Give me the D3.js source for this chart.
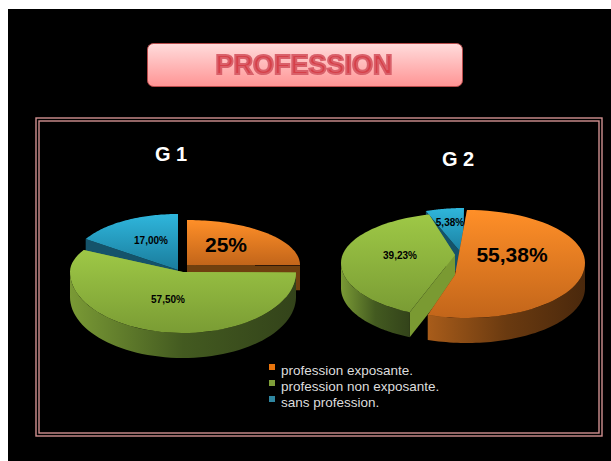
<!DOCTYPE html>
<html>
<head>
<meta charset="utf-8">
<script src="https://cdn.jsdelivr.net/npm/d3@7"></script>
<style>
    html, body { margin: 0; padding: 0; background: #fff; }
    svg { display: block; }
    text { font-family: "Liberation Sans", Arial, sans-serif; }
</style>
</head>
<body>
<div id="chart"></div>
<script>
'use strict';

// Data
const title = 'PROFESSION';
const categories = ['profession exposante.', 'profession non exposante.', 'sans profession.'];
const groupNames = ['G 1', 'G 2'];
const g1Values = [25, 57.5, 17];
const g2Values = [55.38, 39.23, 5.38];
const g1Labels = ['25%', '57,50%', '17,00%'];
const g2Labels = ['55,38%', '39,23%', '5,38%'];

// Colors per category: top face gradient, wall gradient, cut face
const topColors = [['#ff8f28', '#c2651a'], ['#9ec846', '#7a9c34'], ['#2fb6dc', '#1a7c9c']];
const wallColors = [['#a85c1a', '#6a3a10', '#4a280c'], ['#7a9a35', '#435a20', '#33431a'], ['#1b6a84', '#17566e', '#124558']];
const cutColors = ['#70400f', '#7a9a32', '#15536a'];
const legendColors = ['#e8740c', '#7f9f3a', '#2f86a0'];

// Slice geometry, the pictures are not true ellipses so each slice has its own
const g1Layout = {
    depth: 25,
    drawOrder: [2, 0, 1],
    slices: [
        {cx: 187, cy: 265, rx: 113, ryBack: 45, ryFront: 45, apexX: 187, apexY: 265, shift: 0},
        {cx: 183, cy: 272, rx: 113, ryBack: 46, ryFront: 61, apexX: 183, apexY: 272, shift: 0},
        {cx: 178, cy: 262, rx: 105, ryBack: 48, ryFront: 48, apexX: 178, apexY: 270, shift: 0}
    ],
    labels: [
        {x: 226, y: 252, size: 21},
        {x: 168, y: 303, size: 10},
        {x: 151, y: 244, size: 10}
    ],
    name: {x: 171, y: 161}
};
const g2Layout = {
    depth: 25,
    drawOrder: [2, 1, 0],
    slices: [
        {cx: 467, cy: 263, rx: 118, ryBack: 53, ryFront: 55, apexX: 455, apexY: 275, shift: 0},
        {cx: 458, cy: 263, rx: 117, ryBack: 50, ryFront: 54, apexX: 455, apexY: 255, shift: 5},
        {cx: 464, cy: 262, rx: 115, ryBack: 54, ryFront: 54, apexX: 463, apexY: 255, shift: 0}
    ],
    labels: [
        {x: 512, y: 262, size: 21},
        {x: 400, y: 259, size: 10},
        {x: 450, y: 226, size: 10}
    ],
    name: {x: 458, y: 166}
};

/* Class: Pie3d */
class Pie3d {

    constructor(_svg, _id, _name, _values, _labels, _layout) {
        // Fields
        this.svg = _svg;
        this.id = _id;
        this.name = _name;
        this.values = _values;
        this.labels = _labels;
        this.layout = _layout;

        // Initialize
        this.wrangleData();
        this.updateVis();
    }

    /*
    wrangleData
    */
    wrangleData() {
        const vis = this;

        // Clockwise from the top, in the given order
        vis.arcs = d3.pie().sort(null)(vis.values);
        vis.line = d3.line().x(d => d[0]).y(d => d[1]);
    }

    /*
    rim point of slice i at angle a
    */
    rimPoint(i, a) {
        const s = this.layout.slices[i];
        const c = Math.cos(a);
        return [s.cx + s.rx * Math.sin(a), s.cy - (c > 0 ? s.ryBack : s.ryFront) * c];
    }

    /*
    rim points of slice i between two angles
    */
    rimPoints(i, a0, a1) {
        const n = 60;
        return d3.range(n + 1).map(k => this.rimPoint(i, a0 + (a1 - a0) * k / n));
    }

    /*
    updateVis
    */
    updateVis() {
        const vis = this;
        const depth = vis.layout.depth;
        const g = vis.svg.append('g').attr('id', vis.id);
        const down = p => [p[0], p[1] + depth];
        const shiftOf = i => vis.layout.slices[i].shift * Math.PI / 180;

        vis.layout.drawOrder.forEach(i => {
            const s = vis.layout.slices[i];
            const a0 = vis.arcs[i].startAngle + shiftOf(i);
            const a1 = vis.arcs[i].endAngle + shiftOf(i);
            const apex = [s.apexX, s.apexY];
            const slice = g.append('g').attr('class', 'slice');

            // Cut faces
            [a0, a1].forEach(a => {
                const p = vis.rimPoint(i, a);
                slice.append('path')
                    .attr('d', vis.line([apex, p, down(p), down(apex)]) + 'Z')
                    .attr('fill', cutColors[i]);
            });

            // Front wall
            const w0 = Math.max(a0, Math.PI / 2);
            const w1 = Math.min(a1, Math.PI * 1.5);
            if (w1 > w0) {
                const rim = vis.rimPoints(i, w0, w1);
                slice.append('path')
                    .attr('d', vis.line(rim.concat(rim.map(down).reverse())) + 'Z')
                    .attr('fill', `url(#wall${i})`);
            }

            // Top face
            slice.append('path')
                .attr('d', vis.line([apex].concat(vis.rimPoints(i, a0, a1))) + 'Z')
                .attr('fill', `url(#top${i})`);
        });

        // Value labels
        g.selectAll('.value')
            .data(vis.labels)
            .join('text')
            .attr('class', 'value')
            .attr('x', (d, i) => vis.layout.labels[i].x)
            .attr('y', (d, i) => vis.layout.labels[i].y)
            .attr('font-size', (d, i) => vis.layout.labels[i].size)
            .attr('font-weight', 'bold')
            .attr('text-anchor', 'middle')
            .attr('fill', '#000')
            .text(d => d);

        // Group name
        g.append('text')
            .attr('x', vis.layout.name.x)
            .attr('y', vis.layout.name.y)
            .attr('font-size', 20)
            .attr('font-weight', 'bold')
            .attr('text-anchor', 'middle')
            .attr('fill', '#fff')
            .text(vis.name);
    }
}

// Append svg
const svg = d3.select('#chart')
    .append('svg')
    .attr('width', 611)
    .attr('height', 461);

// Gradients
const defs = svg.append('defs');
topColors.forEach((c, i) => {
    const grad = defs.append('linearGradient')
        .attr('id', `top${i}`)
        .attr('x1', 0).attr('y1', 0).attr('x2', 0).attr('y2', 1);
    grad.append('stop').attr('offset', '0%').attr('stop-color', c[0]);
    grad.append('stop').attr('offset', '100%').attr('stop-color', c[1]);
});
wallColors.forEach((c, i) => {
    const grad = defs.append('linearGradient')
        .attr('id', `wall${i}`)
        .attr('x1', 0).attr('y1', 0).attr('x2', 1).attr('y2', 0);
    c.forEach((col, k) => {
        grad.append('stop').attr('offset', `${k * 50}%`).attr('stop-color', col);
    });
});
const boxGrad = defs.append('linearGradient')
    .attr('id', 'titleBox')
    .attr('x1', 0).attr('y1', 0).attr('x2', 0).attr('y2', 1);
boxGrad.append('stop').attr('offset', '0%').attr('stop-color', '#ffdcdc');
boxGrad.append('stop').attr('offset', '100%').attr('stop-color', '#ff9494');
defs.append('filter')
    .attr('id', 'soft')
    .append('feGaussianBlur')
    .attr('stdDeviation', 0.5);

// Black slide
svg.append('rect')
    .attr('x', 8).attr('y', 9)
    .attr('width', 603).attr('height', 452)
    .attr('fill', '#000');

// Double frame
[[36, 118, 566, 318], [39, 121, 560, 312]].forEach(r => {
    svg.append('rect')
        .attr('x', r[0]).attr('y', r[1])
        .attr('width', r[2]).attr('height', r[3])
        .attr('fill', 'none')
        .attr('stroke', '#d09090')
        .attr('stroke-width', 1.4);
});

// Title box
svg.append('rect')
    .attr('x', 147.5).attr('y', 43.5)
    .attr('width', 315).attr('height', 43)
    .attr('rx', 6)
    .attr('fill', 'url(#titleBox)')
    .attr('stroke', '#b84a4a');
svg.append('text')
    .attr('x', 304)
    .attr('y', 74)
    .attr('text-anchor', 'middle')
    .attr('font-size', 27)
    .attr('font-weight', 'bold')
    .attr('fill', '#d63f48')
    .attr('stroke', '#d9606a')
    .attr('stroke-width', 2)
    .attr('filter', 'url(#soft)')
    .text(title);

// Pies
new Pie3d(svg, 'g1', groupNames[0], g1Values, g1Labels, g1Layout);
new Pie3d(svg, 'g2', groupNames[1], g2Values, g2Labels, g2Layout);

// Legend
const legendY = d3.scalePoint().domain(categories).range([371, 403]);
const legend = svg.append('g')
    .attr('id', 'legend')
    .selectAll('g')
    .data(categories)
    .join('g')
    .attr('transform', d => `translate(0, ${legendY(d)})`);
legend.append('rect')
    .attr('x', 269).attr('y', -7)
    .attr('width', 6).attr('height', 6)
    .attr('fill', (d, i) => legendColors[i]);
legend.append('text')
    .attr('x', 281).attr('y', 4)
    .attr('font-size', 13.5)
    .attr('fill', '#dddddd')
    .text(d => d);
</script>
</body>
</html>
